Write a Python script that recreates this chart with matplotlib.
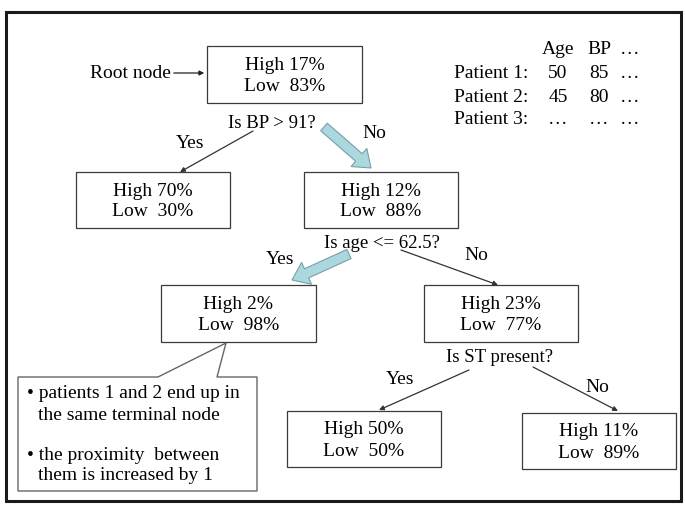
import matplotlib
matplotlib.use('Agg')
import matplotlib.pyplot as plt
from matplotlib.patches import Rectangle, Polygon, FancyArrow

plt.rcParams['font.family'] = ['Liberation Serif', 'DejaVu Serif']

# node contents (percent High / Low)
node_names = ['root', 'n70', 'n12', 'n2', 'n23', 'n50', 'n11']
node_high = [17, 70, 12, 2, 23, 50, 11]
node_low = [83, 30, 88, 98, 77, 50, 89]

# split questions and branch labels
questions = ['Is BP > 91?', 'Is age <= 62.5?', 'Is ST present?']
branch_labels = ['Yes', 'No']

# patient table
table_cols = ['Age', 'BP', '\u2026']
table_rows = ['Patient 1:', 'Patient 2:', 'Patient 3:']
table_vals = [['50', '85', '\u2026'],
              ['45', '80', '\u2026'],
              ['\u2026', '\u2026', '\u2026']]

callout_lines = ['\u2022 patients 1 and 2 end up in', 'the same terminal node',
                 '\u2022 the proximity  between', 'them is increased by 1']

# layout (pixel space of a 685x513 image)
boxes = {'root': (207, 46, 362, 103),
         'n70': (76, 172, 230, 228),
         'n12': (304, 172, 458, 228),
         'n2': (161, 285, 316, 342),
         'n23': (424, 285, 578, 342),
         'n50': (287, 411, 441, 467),
         'n11': (522, 413, 676, 469)}

FS = 14
fig = plt.figure(figsize=(6.85, 5.13), dpi=100)
ax = fig.add_axes([0, 0, 1, 1])
ax.set_xlim(0, 685)
ax.set_ylim(513, 0)
ax.axis('off')

# outer frame
ax.add_patch(Rectangle((6, 12), 675, 489, fill=False, ec='#1a1a1a', lw=2.2))

for name, hi, lo in zip(node_names, node_high, node_low):
    x0, y0, x1, y1 = boxes[name]
    ax.add_patch(Rectangle((x0, y0), x1 - x0, y1 - y0, fill=False, ec='#3a3a3a', lw=0.9))
    cx, cy = (x0 + x1) / 2, (y0 + y1) / 2
    ax.text(cx, cy - 9, 'High %d%%' % hi, ha='center', va='center', fontsize=FS)
    ax.text(cx, cy + 12, 'Low  %d%%' % lo, ha='center', va='center', fontsize=FS)

# root node label
ax.text(130, 73, 'Root node', ha='center', va='center', fontsize=FS)
ax.annotate('', xy=(207, 73), xytext=(171, 73),
            arrowprops=dict(arrowstyle='-|>', color='#222222', lw=0.9, mutation_scale=7))

# questions
ax.text(272, 123, questions[0], ha='center', va='center', fontsize=13.5)
ax.text(382, 243, questions[1], ha='center', va='center', fontsize=13.5)
ax.text(500, 358, questions[2], ha='center', va='center', fontsize=13.5)

# branch labels
ax.text(190, 143, branch_labels[0], ha='center', va='center', fontsize=FS)
ax.text(374, 134, branch_labels[1], ha='center', va='center', fontsize=FS)
ax.text(280, 260, branch_labels[0], ha='center', va='center', fontsize=FS)
ax.text(476, 255, branch_labels[1], ha='center', va='center', fontsize=FS)
ax.text(400, 380, branch_labels[0], ha='center', va='center', fontsize=FS)
ax.text(597, 388, branch_labels[1], ha='center', va='center', fontsize=FS)

# thin arrows
thin = [((253, 131), (180, 172)),
        ((401, 250), (498, 285)),
        ((469, 370), (379, 410)),
        ((533, 367), (618, 411))]
for (xs, ys), (xe, ye) in thin:
    ax.annotate('', xy=(xe, ye), xytext=(xs, ys),
                arrowprops=dict(arrowstyle='-|>', color='#333333', lw=0.9,
                                mutation_scale=7, shrinkA=0, shrinkB=0))

# thick light blue arrows
fat = [((324, 127), (371, 168)),
       ((349, 254), (292, 280))]
for (xs, ys), (xe, ye) in fat:
    ax.add_patch(FancyArrow(xs, ys, xe - xs, ye - ys, width=10, head_width=24,
                            head_length=16, length_includes_head=True,
                            fc='#a9d9df', ec='#7a9ea4', lw=0.8))

# patient table
col_x = [558, 599, 630]
row_y = [73, 97, 120]
for cx, lab in zip(col_x, table_cols):
    ax.text(cx, 49, lab, ha='center', va='center', fontsize=FS)
for ry, rlab, vals in zip(row_y, table_rows, table_vals):
    ax.text(454, ry, rlab, ha='left', va='center', fontsize=FS)
    for cx, v in zip(col_x, vals):
        ax.text(cx, ry, v, ha='center', va='center', fontsize=FS)

# callout
ax.add_patch(Polygon([(18, 377), (158, 377), (226, 343), (217, 377), (257, 377),
                      (257, 491), (18, 491)], closed=True, fill=False,
                     ec='#666666', lw=1.0))
for txt, tx, ty in zip(callout_lines, [27, 38, 27, 38], [394, 415, 455, 476]):
    ax.text(tx, ty, txt, ha='left', va='center', fontsize=FS)

fig.savefig('out.png', dpi=100)
